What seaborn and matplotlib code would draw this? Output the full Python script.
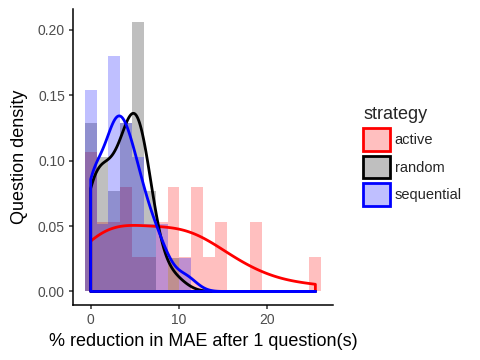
import numpy as np
import pandas as pd
import seaborn as sns
import matplotlib.pyplot as plt
from matplotlib.colors import to_rgba
from matplotlib.patches import Patch

# smallest and largest % reduction seen in the data
x_min, x_max = 0.0, 25.5
n_bins = 20

# number of questions in each histogram bin
strategies = ['active', 'random', 'sequential']
active_counts = [4, 2, 2, 3, 1, 1, 2, 3, 1, 3, 1, 2, 0, 0, 2, 0, 0, 0, 0, 1]
random_counts = [5, 4, 3, 5, 8, 3, 0, 1, 0, 0, 0, 0, 0, 0, 0, 0, 0, 0, 0, 0]
sequential_counts = [6, 2, 7, 5, 4, 2, 2, 0, 1, 0, 0, 0, 0, 0, 0, 0, 0, 0, 0, 0]
colors = ['#FF0000', '#000000', '#0000FF']
# small per-group tweak of R's default bandwidth
bw_tweak = [1.2, 1.25, 1.0]

# bins like ggplot's geom_histogram(bins = 20): first bin centred on the minimum
width = (x_max - x_min) / (n_bins - 1)
centers = x_min + width * np.arange(n_bins)
edges = np.append(centers - width / 2, centers[-1] + width / 2)

counts = {'active': active_counts, 'random': random_counts, 'sequential': sequential_counts}
df = pd.concat([pd.DataFrame({'reduction': np.repeat(centers, counts[s]), 'strategy': s})
                for s in strategies], ignore_index=True)

sns.set_theme(style='ticks')
plt.rcParams['font.family'] = ['Liberation Sans', 'DejaVu Sans']
plt.rcParams['axes.linewidth'] = 1.1
plt.rcParams['axes.edgecolor'] = 'black'
plt.rcParams['xtick.color'] = '#333333'
plt.rcParams['ytick.color'] = '#333333'
plt.rcParams['xtick.labelcolor'] = '#4D4D4D'
plt.rcParams['ytick.labelcolor'] = '#4D4D4D'

fig, ax = plt.subplots(figsize=(4.8, 3.6), dpi=100)
fig.subplots_adjust(left=0.152, right=0.694, bottom=0.153, top=0.975)

# overlaid histograms
for s, c in zip(strategies, colors):
    sub = df[df['strategy'] == s]
    sns.histplot(x=sub['reduction'], bins=edges, stat='density', color=c,
                 alpha=0.25, linewidth=0, ax=ax)

# density outlines, computed over the whole x range with R's default bandwidth
for s, c, tw in zip(strategies, colors, bw_tweak):
    x = df.loc[df['strategy'] == s, 'reduction'].values
    sd = x.std(ddof=1)
    iqr = np.subtract(*np.percentile(x, [75, 25]))
    adj = 0.9 * min(sd, iqr / 1.34) / sd * tw
    sns.kdeplot(x=x, bw_adjust=adj, cut=50, clip=(x_min, x_max), gridsize=512,
                fill=True, color=c, facecolor='none', edgecolor=c, linewidth=2, ax=ax)

ax.use_sticky_edges = False
ax.margins(0.05)
ax.set_xticks([0, 10, 20])
ax.set_yticks([0, 0.05, 0.10, 0.15, 0.20])
ax.set_yticklabels(['0.00', '0.05', '0.10', '0.15', '0.20'])
ax.tick_params(labelsize=10, length=2.8, width=1.1, pad=3)
ax.set_xlabel('% reduction in MAE after 1 question(s)', fontsize=13, color='black', labelpad=4)
ax.set_ylabel('Question density', fontsize=13, color='black', labelpad=7)
sns.despine(ax=ax)

handles = [Patch(facecolor=to_rgba(c, 0.25), edgecolor=c, linewidth=2) for c in colors]
leg = fig.legend(handles, strategies, title='strategy', loc='upper left',
                 bbox_to_anchor=(0.742, 0.726), frameon=False, borderpad=0,
                 handlelength=1.8, handleheight=2.0, handletextpad=0.35,
                 labelspacing=0.35, fontsize=10.5, title_fontsize=13, alignment='left')

fig.savefig('out.png', dpi=100)
